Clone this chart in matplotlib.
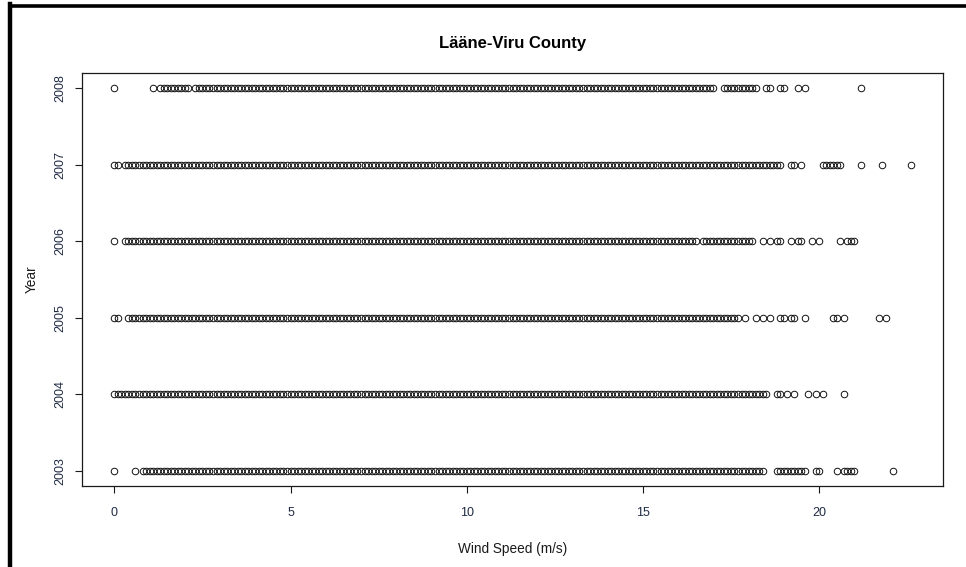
"""
Wind speed observations by year, Lääne-Viru County.
Base-graphics style strip chart: one row of open circles per year.
"""

import numpy as np
import matplotlib.pyplot as plt
from matplotlib.lines import Line2D

# ── Data ──────────────────────────────────────────────────────────────────────
# Speeds are recorded at 0.1 m/s resolution.  Long stretches where every
# 0.1 step occurs are stored as (first, last) runs; the rest are listed singly.

YEARS = [2003, 2004, 2005, 2006, 2007, 2008]

RUNS_2003 = [(0.8, 16.8), (16.9, 18.0), (18.1, 18.4), (18.8, 19.6)]
SINGLE_2003 = [0.0, 0.6, 19.9, 20.0, 20.5, 20.7, 20.8, 20.9, 21.0, 22.1]

RUNS_2004 = [(0.0, 18.1), (18.2, 18.5)]
SINGLE_2004 = [18.8, 18.9, 19.1, 19.3, 19.7, 19.9, 20.1, 20.7]

RUNS_2005 = [(0.4, 17.7)]
SINGLE_2005 = [0.0, 0.1, 17.9, 18.2, 18.4, 18.6, 18.9, 19.0, 19.2, 19.3,
               19.6, 20.4, 20.5, 20.7, 21.7, 21.9]

RUNS_2006 = [(0.3, 16.5), (16.7, 18.1)]
SINGLE_2006 = [0.0, 18.4, 18.6, 18.8, 18.9, 19.2, 19.4, 19.5, 19.8, 20.0,
               20.6, 20.8, 20.9, 21.0]

RUNS_2007 = [(0.3, 18.8), (20.1, 20.6)]
SINGLE_2007 = [0.0, 0.1, 18.9, 19.2, 19.3, 19.5, 21.2, 21.8, 22.6]

RUNS_2008 = [(1.4, 2.1), (2.3, 17.0), (17.3, 18.2)]
SINGLE_2008 = [0.0, 1.1, 1.3, 18.5, 18.6, 18.9, 19.0, 19.4, 19.6, 21.2]

RUNS = [RUNS_2003, RUNS_2004, RUNS_2005, RUNS_2006, RUNS_2007, RUNS_2008]
SINGLES = [SINGLE_2003, SINGLE_2004, SINGLE_2005, SINGLE_2006, SINGLE_2007,
           SINGLE_2008]

X_TICKS = [0, 5, 10, 15, 20]

TITLE = "Lääne-Viru County"
X_LABEL = "Wind Speed (m/s)"
Y_LABEL = "Year"

# ── Style ─────────────────────────────────────────────────────────────────────

INK = "#1a1a1a"
TICK_INK = "#1f2a44"
plt.rcParams.update({
    "font.family": ["Liberation Sans", "DejaVu Sans"],
    "font.size": 9,
})


def expand(runs, singles):
    vals = list(singles)
    for a, b in runs:
        n = int(round((b - a) * 10)) + 1
        vals += [round(a + 0.1 * i, 1) for i in range(n)]
    return np.array(sorted(set(vals)))


# ── Figure ────────────────────────────────────────────────────────────────────

fig = plt.figure(figsize=(9.66, 5.67), dpi=100, facecolor="white")
ax = fig.add_axes([0.0854, 0.1429, 0.8903, 0.7284])

all_speeds = []
for year, runs, singles in zip(YEARS, RUNS, SINGLES):
    speeds = expand(runs, singles)
    all_speeds.append(speeds)
    ax.plot(speeds, np.full(len(speeds), year), linestyle="none",
            marker="o", markersize=4.7, markerfacecolor="none",
            markeredgecolor="#111111", markeredgewidth=0.7)

# R-style 4% padding of the data range
lo = min(s.min() for s in all_speeds)
hi = max(s.max() for s in all_speeds)
pad = 0.04 * (hi - lo)
ax.set_xlim(lo - pad, hi + pad)
ax.set_ylim(YEARS[0] - 0.04 * 5, YEARS[-1] + 0.04 * 5)

ax.set_xticks(X_TICKS)
ax.set_yticks(YEARS)
ax.set_yticklabels([str(y) for y in YEARS], rotation=90, va="center")
ax.tick_params(direction="out", length=5, width=0.8, color=INK,
               labelcolor=TICK_INK, labelsize=9)
ax.tick_params(axis="x", pad=10)
ax.tick_params(axis="y", pad=7)
for sp in ax.spines.values():
    sp.set_color(INK)
    sp.set_linewidth(0.9)

ax.set_title(TITLE, fontsize=12, fontweight="bold", color="black", pad=18)
ax.set_xlabel(X_LABEL, fontsize=9.8, color=INK, labelpad=17)
ax.set_ylabel(Y_LABEL, fontsize=9.8, color=INK, labelpad=11)

# thick frame along the left and top edges of the canvas
fig.add_artist(Line2D([9.5 / 966, 9.5 / 966], [0, 1 - 3.5 / 567],
                      transform=fig.transFigure, color="black", lw=3.2,
                      solid_capstyle="projecting"))
fig.add_artist(Line2D([9.5 / 966, 1], [1 - 5.5 / 567, 1 - 5.5 / 567],
                      transform=fig.transFigure, color="black", lw=2.6,
                      solid_capstyle="projecting"))

fig.savefig("out.png", dpi=100, facecolor="white")
